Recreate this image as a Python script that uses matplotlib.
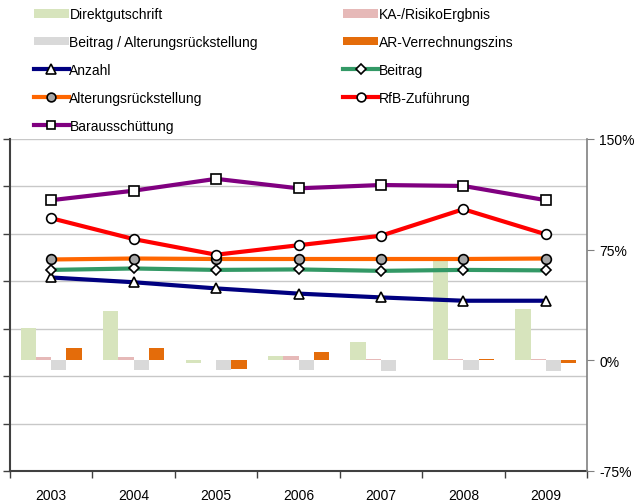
import matplotlib.pyplot as plt
from matplotlib.patches import Patch
from matplotlib.lines import Line2D
import numpy as np

plt.rcParams['font.family'] = ['Liberation Sans', 'DejaVu Sans']

# --- Data ---
years = ['2003', '2004', '2005', '2006', '2007', '2008', '2009']

# index lines (left axis)
anzahl = [81.6, 79.6, 77.0, 74.8, 73.2, 71.8, 71.8]
beitrag = [84.8, 85.4, 84.8, 85.0, 84.4, 84.8, 84.6]
alterung = [89.2, 89.6, 89.4, 89.4, 89.4, 89.4, 89.6]
rfb = [106.6, 97.8, 91.2, 95.2, 99.2, 110.4, 99.8]
baraus = [114.2, 118.2, 123.2, 119.2, 120.6, 120.2, 114.2]

# percentage bars (right axis)
direkt = [21.7, 33.5, -1.5, 2.8, 12.7, 67.0, 35.0]
ka_risiko = [2.0, 2.3, 0.5, 3.0, 1.0, 1.0, 1.0]
beitrag_ar = [-6.6, -6.4, -6.5, -6.3, -7.0, -6.3, -7.0]
ar_zins = [8.1, 8.3, -5.8, 5.7, 0.5, 1.2, -1.5]

right_ticks = [150, 75, 0, -75]

# --- Styles ---
bar_series = [
    (direkt, '#d7e4bd', 'Direktgutschrift'),
    (ka_risiko, '#e6b9b8', 'KA-/RisikoErgbnis'),
    (beitrag_ar, '#d9d9d9', 'Beitrag / Alterungsrückstellung'),
    (ar_zins, '#e46c0a', 'AR-Verrechnungszins'),
]
line_series = [
    (anzahl, '#000080', '^', 'white', 'Anzahl'),
    (beitrag, '#339966', 'D', 'white', 'Beitrag'),
    (alterung, '#ff6600', 'o', '#a6a6a6', 'Alterungsrückstellung'),
    (rfb, '#ff0000', 'o', 'white', 'RfB-Zuführung'),
    (baraus, '#800080', 's', 'white', 'Barausschüttung'),
]
marker_sizes = {'^': 7.5, 'D': 5.5, 'o': 7, 's': 6.5}

fig = plt.figure(figsize=(6.41, 5.02), dpi=100)
pos = [10 / 641, 30 / 502, 577 / 641, 332 / 502]
x = np.arange(len(years))

# background axes: gridlines and left axis
ax = fig.add_axes(pos)
ax.set_xlim(-0.5, len(years) - 0.5)
ax.set_ylim(0, 140)
ax.set_yticks(np.arange(0, 141, 20))
ax.set_yticklabels([])
ax.yaxis.grid(True, color='#c8c8c8', linewidth=1)
ax.set_axisbelow(True)
ax.set_xticks(np.arange(len(years) + 1) - 0.5)
ax.set_xticklabels([])
ax.set_xticks(x, minor=True)
ax.set_xticklabels(years, minor=True, fontsize=10)
ax.tick_params(axis='x', which='major', length=5, color='#404040', width=1)
ax.tick_params(axis='x', which='minor', length=0, pad=12)
ax.tick_params(axis='y', length=5, color='#404040', width=1)
ax.spines['top'].set_visible(False)
ax.spines['right'].set_visible(False)
for s in ('left', 'bottom'):
    ax.spines[s].set_color('#404040')
    ax.spines[s].set_linewidth(1.5)

# bars on the percentage axis
ax2 = ax.twinx()
ax2.set_ylim(-75, 150)
width = 0.185
offsets = (np.arange(4) - 1.5) * width
for (vals, color, label), off in zip(bar_series, offsets):
    ax2.bar(x + off, vals, width=width, color=color, linewidth=0)
ax2.set_yticks(right_ticks)
ax2.set_yticklabels([f'{t}%' for t in right_ticks], fontsize=10)
ax2.tick_params(axis='y', length=5, color='#808080', pad=4)
for s in ('top', 'left', 'bottom'):
    ax2.spines[s].set_visible(False)
ax2.spines['right'].set_color('#808080')
ax2.spines['right'].set_linewidth(1.2)

# lines on top, sharing the left scale
ax3 = fig.add_axes(pos, sharex=ax, sharey=ax)
ax3.patch.set_visible(False)
ax3.axis('off')
for vals, color, mk, face, label in line_series:
    ax3.plot(x, vals, color=color, linewidth=3, marker=mk,
             markersize=marker_sizes[mk], markerfacecolor=face,
             markeredgecolor='black', markeredgewidth=1.2, clip_on=False)

# legend: two columns
bar_handles = [Patch(facecolor=c, edgecolor='none', label=l) for _, c, l in bar_series]
line_handles = [Line2D([], [], color=c, linewidth=3, marker=mk,
                       markersize=marker_sizes[mk] * 0.9, markerfacecolor=f,
                       markeredgecolor='black', markeredgewidth=1.2, label=l)
                for _, c, mk, f, l in line_series]
h = {hd.get_label(): hd for hd in bar_handles + line_handles}
order = ['Direktgutschrift', 'Beitrag / Alterungsrückstellung', 'Anzahl',
         'Alterungsrückstellung', 'Barausschüttung',
         'KA-/RisikoErgbnis', 'AR-Verrechnungszins', 'Beitrag', 'RfB-Zuführung']
fig.legend([h[k] for k in order], order, ncol=2, loc='upper left',
           bbox_to_anchor=(34 / 641, 1 - 8 / 502), frameon=False, fontsize=10,
           handlelength=2.5, handleheight=0.6, handletextpad=0.05,
           labelspacing=1.0, columnspacing=6.15, borderpad=0, borderaxespad=0)

fig.savefig('out.png', dpi=100)
